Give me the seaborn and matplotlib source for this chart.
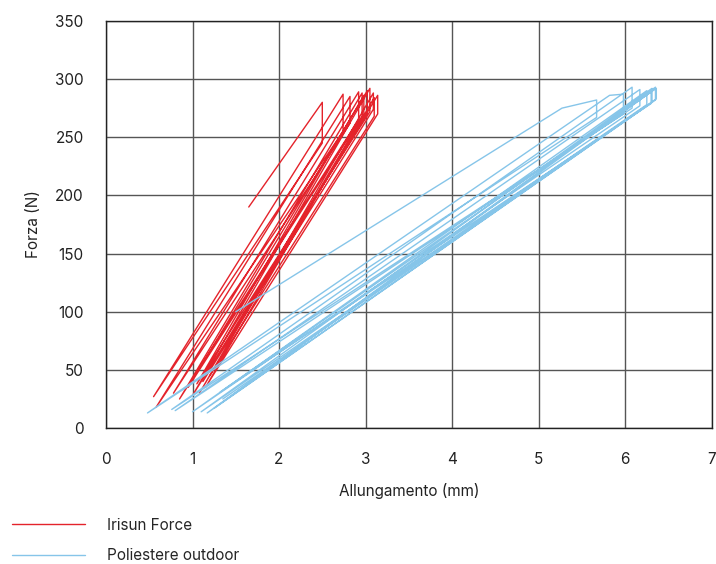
import pandas as pd
import matplotlib.pyplot as plt
import seaborn as sns

# turning points of the cyclic load tests (elongation mm, force N)
red_x = [1.65, 2.50, 2.50, 0.55, 2.74, 2.74, 0.58, 2.82, 2.82, 0.78, 2.92, 2.92,
         0.85, 2.96, 2.96, 0.95, 3.02, 3.02, 1.00, 3.05, 3.05, 1.05, 2.98, 2.98,
         1.08, 3.09, 3.09, 1.12, 3.14, 3.14, 1.15, 3.10, 3.10, 1.20]
red_y = [190, 280, 245, 27, 287, 255, 18, 285, 262, 30, 289, 265,
         25, 288, 268, 35, 290, 270, 28, 292, 272, 38, 286, 270,
         30, 288, 274, 40, 286, 270, 35, 284, 268, 45]

blue_x = [1.50, 5.27, 5.67, 5.67, 0.48, 5.82, 5.98, 5.98, 0.76, 6.08, 6.08, 0.80,
          6.17, 6.17, 1.00, 6.25, 6.25, 1.10, 6.31, 6.31, 1.17, 6.35, 6.35, 1.25,
          6.30, 6.30, 1.32, 6.36, 6.36, 1.35]
blue_y = [100, 275, 282, 267, 13, 286, 287, 270, 16, 293, 275, 15,
          291, 277, 14, 290, 278, 14, 292, 280, 13, 293, 282, 17,
          289, 279, 31, 292, 283, 25]

labels = ['Irisun Force', 'Poliestere outdoor']
colors = ['#e4232b', '#86c5e9']

df = pd.concat([
    pd.DataFrame({'x': red_x, 'y': red_y, 'serie': labels[0]}),
    pd.DataFrame({'x': blue_x, 'y': blue_y, 'serie': labels[1]}),
], ignore_index=True)

sns.set_style('white')
plt.rcParams['font.family'] = ['Inter', 'DejaVu Sans']

fig = plt.figure(figsize=(7.16, 5.64), dpi=100)
ax = fig.add_axes([0.148, 0.241, 0.846, 0.722])

sns.lineplot(data=df, x='x', y='y', hue='serie', palette=colors, sort=False,
             estimator=None, linewidth=1.0, ax=ax, legend=False)

ax.set_xlim(0, 7)
ax.set_ylim(0, 350)
ax.set_xticks(range(0, 8))
ax.set_yticks(range(0, 351, 50))
ax.grid(True, color='#555555', linewidth=1.0)
ax.set_axisbelow(True)
for s in ax.spines.values():
    s.set_color('#222222')
    s.set_linewidth(1.0)
ax.tick_params(length=0, labelsize=11, colors='#222222')
ax.tick_params(axis='x', pad=17)
ax.tick_params(axis='y', pad=16)
ax.set_xlabel('Allungamento (mm)', fontsize=11, color='#222222', labelpad=12)
ax.set_ylabel('Forza (N)', fontsize=11, color='#222222', labelpad=10)

handles = [plt.Line2D([], [], color=c, linewidth=1.0) for c in colors]
fig.legend(handles, labels, loc='upper left', bbox_to_anchor=(0.008, 0.093),
           frameon=False, fontsize=11, handlelength=4.8, handletextpad=1.4,
           labelspacing=1.0, borderaxespad=0)

plt.savefig('out.png', dpi=100)
